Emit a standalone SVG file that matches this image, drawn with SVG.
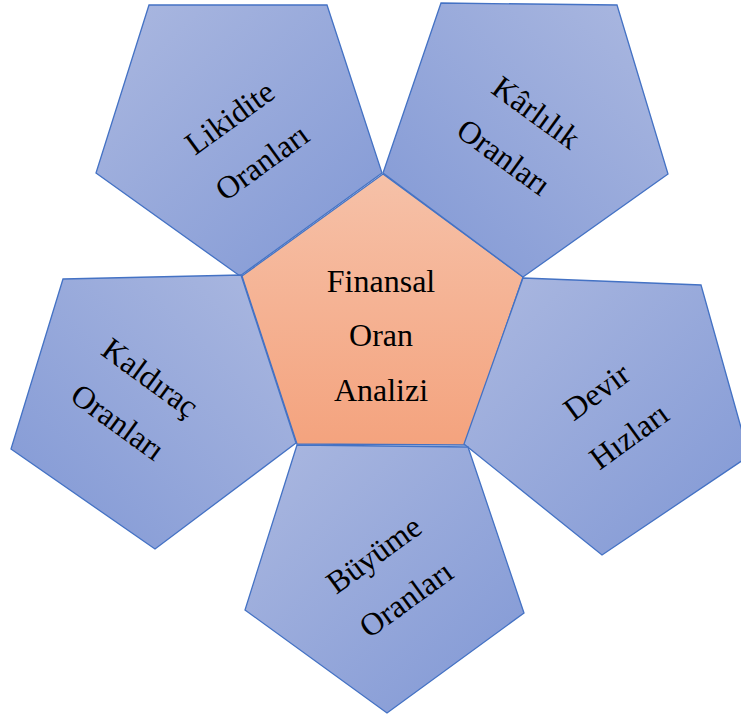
<svg xmlns="http://www.w3.org/2000/svg" width="741" height="714" viewBox="0 0 741 714">
<defs>
<linearGradient id="gA" x1="0" y1="0" x2="1" y2="1"><stop offset="0" stop-color="#abb8e0"/><stop offset="1" stop-color="#8198d5"/></linearGradient>
<linearGradient id="gB" x1="1" y1="0" x2="0" y2="1"><stop offset="0" stop-color="#abb8e0"/><stop offset="1" stop-color="#8198d5"/></linearGradient>
<linearGradient id="gC" x1="0" y1="0" x2="0" y2="1"><stop offset="0" stop-color="#f6c1a8"/><stop offset="1" stop-color="#f4a37e"/></linearGradient>
</defs>
<style>
.o{stroke:#4472c4;stroke-width:1.3;stroke-linejoin:miter}
.c{stroke:#4472c4;stroke-width:1.3;fill:url(#gC)}
text{font-family:"Liberation Serif","Times New Roman",serif;font-size:32px;fill:#000;text-anchor:middle}
</style>
<g id="center">
<polygon class="c" points="383,174 523,277 465,445 297,444 242,276"/>
<text x="381" y="292">Finansal</text>
<text x="381" y="346">Oran</text>
<text x="381" y="401">Analizi</text>
</g>
<g id="likidite">
<polygon class="o" fill="url(#gA)" points="149,5 327,5 382,173 240,276 96,173"/>
<g transform="translate(246,140) rotate(-36)"><text x="0" y="-17">Likidite</text><text x="0" y="38">Oranları</text></g>
</g>
<g id="karlilik">
<polygon class="o" fill="url(#gB)" points="441,3 617,5 668,174 523,277 383,173"/>
<g transform="translate(520,135) rotate(36)"><text x="0" y="-17">Kârlılık</text><text x="0" y="38">Oranları</text></g>
</g>
<g id="kaldirac">
<polygon class="o" fill="url(#gB)" points="63,279 241,275 296,443 155,549 11,449"/>
<g transform="translate(134,400) rotate(36)"><text x="0" y="-17">Kaldıraç</text><text x="0" y="38">Oranları</text></g>
</g>
<g id="devir">
<polygon class="o" fill="url(#gA)" points="523,278 701,285 749,456 602,555 464,444"/>
<g transform="translate(613,414) rotate(-36)"><text x="0" y="-17">Devir</text><text x="0" y="38">Hızları</text></g>
</g>
<g id="buyume">
<polygon class="o" fill="url(#gA)" points="297,445 468,447 524,613 387,713 245,610"/>
<g transform="translate(390,577) rotate(-36)"><text x="0" y="-17">Büyüme</text><text x="0" y="38">Oranları</text></g>
</g>
<g id="connectors"></g>
</svg>
